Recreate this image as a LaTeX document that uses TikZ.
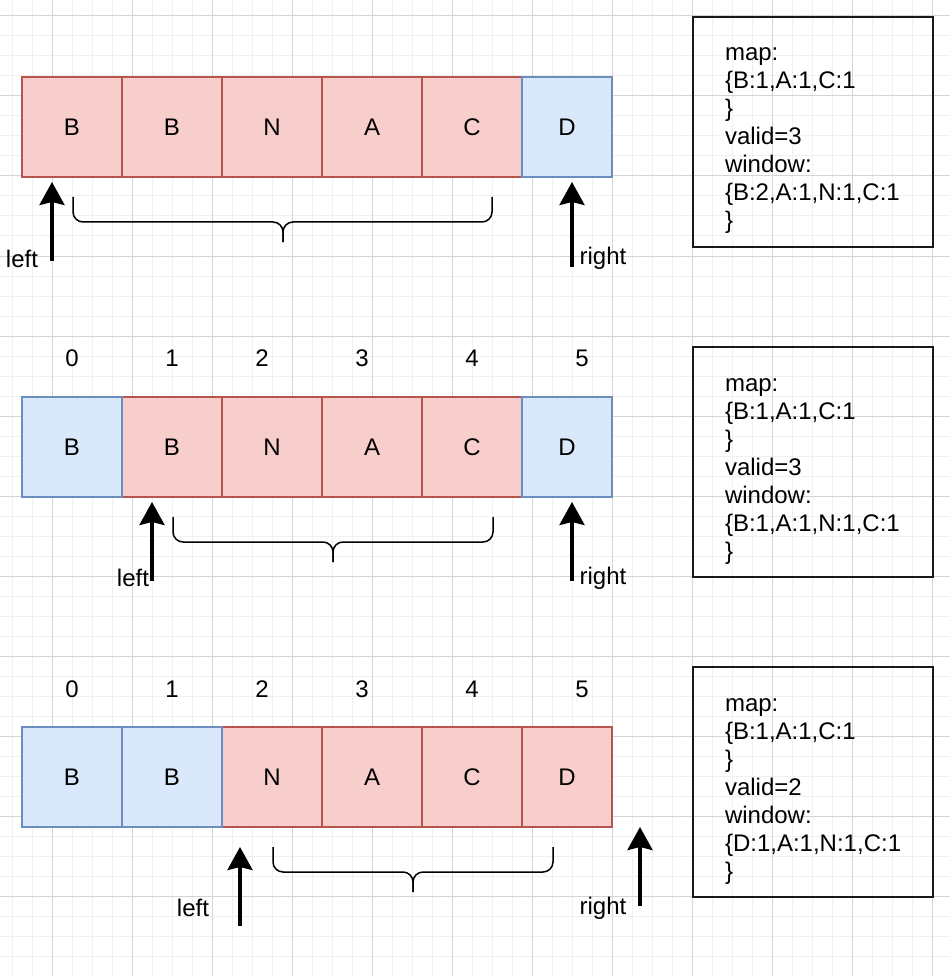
\documentclass[tikz,border=0pt]{standalone}
\usepackage{fontspec}
\setmainfont{Liberation Sans}
\usetikzlibrary{arrows.meta}
\definecolor{WinRed}{HTML}{F8CECC}
\definecolor{WinRedLine}{HTML}{B85450}
\definecolor{OutBlue}{HTML}{DAE8FC}
\definecolor{OutBlueLine}{HTML}{6C8EBF}
\tikzset{cell/.style={line width=1.5pt,minimum height=100pt,minimum width=100pt,inner sep=0pt,outer sep=0pt,font=\fontsize{24}{28.8}\selectfont},
inwin/.style={cell,draw=WinRedLine,fill=WinRed},outwin/.style={cell,draw=OutBlueLine,fill=OutBlue},
lbl/.style={inner sep=0pt,font=\fontsize{24}{28.8}\selectfont},
ptr/.style={-{Stealth[length=23pt,width=25pt,inset=3pt]},line width=3.5pt},
brc/.style={line width=1.5pt,rounded corners=10pt},
info/.style={draw=black!90,line width=2pt,minimum width=240pt,minimum height=230pt,text width=176pt,inner xsep=32pt,align=left,font=\fontsize{24}{28}\selectfont}}

\begin{document}
\begin{tikzpicture}[x=1pt,y=-1pt]
\useasboundingbox (0,0) rectangle (950,976);
% grid
\foreach \x in {12,32,...,952} \draw[black!6,line width=1pt] (\x,0)--(\x,976);
\foreach \y in {16,36,...,976} \draw[black!6,line width=1pt] (0,\y)--(950,\y);
\foreach \x in {52,132,...,952} \draw[black!17,line width=1pt] (\x,0)--(\x,976);
\foreach \y in {16,96,...,976} \draw[black!17,line width=1pt] (0,\y)--(950,\y);

% row 1
\node[inwin] (a0) at (72,127) {B};
\node[inwin] (a1) at (172,127) {B};
\node[inwin] (a2) at (272,127) {N};
\node[inwin] (a3) at (372,127) {A};
\node[inwin] (a4) at (472,127) {C};
\node[outwin,minimum width=90pt] (a5) at (567,127) {D};
\coordinate (al0) at (52,261); \coordinate (al1) at (52,182);
\coordinate (ar0) at (572,267); \coordinate (ar1) at (572,182);
\draw[ptr] (al0)--(al1); \draw[ptr] (ar0)--(ar1);
\node[lbl] (aleft) at (22,259) {left};
\node[lbl] (aright) at (603,258) {right};
\draw[brc] (73,197)|-(283,222)--(283,242); \draw[brc] (492,197)|-(283,222)--(283,242);
\node[info] (amap) at (813,132) {\rule{0pt}{30pt}map:\\\{B:1,A:1,C:1\\\}\\valid=3\\window:\\\{B:2,A:1,N:1,C:1\\\}};

% row 2
\node[lbl] (bi0) at (72,358) {0}; \node[lbl] (bi1) at (172,358) {1}; \node[lbl] (bi2) at (262,358) {2};
\node[lbl] (bi3) at (362,358) {3}; \node[lbl] (bi4) at (472,358) {4}; \node[lbl] (bi5) at (582,358) {5};
\node[inwin] (b1) at (172,447) {B};
\node[inwin] (b2) at (272,447) {N};
\node[inwin] (b3) at (372,447) {A};
\node[inwin] (b4) at (472,447) {C};
\node[outwin] (b0) at (72,447) {B};
\node[outwin,minimum width=90pt] (b5) at (567,447) {D};
\coordinate (bl0) at (152,581); \coordinate (bl1) at (152,502);
\coordinate (br0) at (572,581); \coordinate (br1) at (572,502);
\draw[ptr] (bl0)--(bl1); \draw[ptr] (br0)--(br1);
\node[lbl] (bleft) at (133,578) {left};
\node[lbl] (bright) at (603,578) {right};
\draw[brc] (173,517)|-(333,542)--(333,562); \draw[brc] (493,517)|-(333,542)--(333,562);
\node[info] (bmap) at (813,462) {\rule{0pt}{32pt}map:\\\{B:1,A:1,C:1\\\}\\valid=3\\window:\\\{B:1,A:1,N:1,C:1\\\}};

% row 3
\node[lbl] (ci0) at (72,689) {0}; \node[lbl] (ci1) at (172,689) {1}; \node[lbl] (ci2) at (262,689) {2};
\node[lbl] (ci3) at (362,689) {3}; \node[lbl] (ci4) at (472,689) {4}; \node[lbl] (ci5) at (582,689) {5};
\node[inwin] (c2) at (272,777) {N};
\node[inwin] (c3) at (372,777) {A};
\node[inwin] (c4) at (472,777) {C};
\node[inwin,minimum width=90pt] (c5) at (567,777) {D};
\node[outwin] (c0) at (72,777) {B};
\node[outwin] (c1) at (172,777) {B};
\coordinate (cl0) at (240,926); \coordinate (cl1) at (240,847);
\coordinate (cr0) at (640,906); \coordinate (cr1) at (640,827);
\draw[ptr] (cl0)--(cl1); \draw[ptr] (cr0)--(cr1);
\node[lbl] (cleft) at (193,908) {left};
\node[lbl] (cright) at (603,908) {right};
\draw[brc] (273,847)|-(413,872)--(413,892); \draw[brc] (553,847)|-(413,872)--(413,892);
\node[info] (cmap) at (813,782) {\rule{0pt}{32pt}map:\\\{B:1,A:1,C:1\\\}\\valid=2\\window:\\\{D:1,A:1,N:1,C:1\\\}};
\end{tikzpicture}
\end{document}
